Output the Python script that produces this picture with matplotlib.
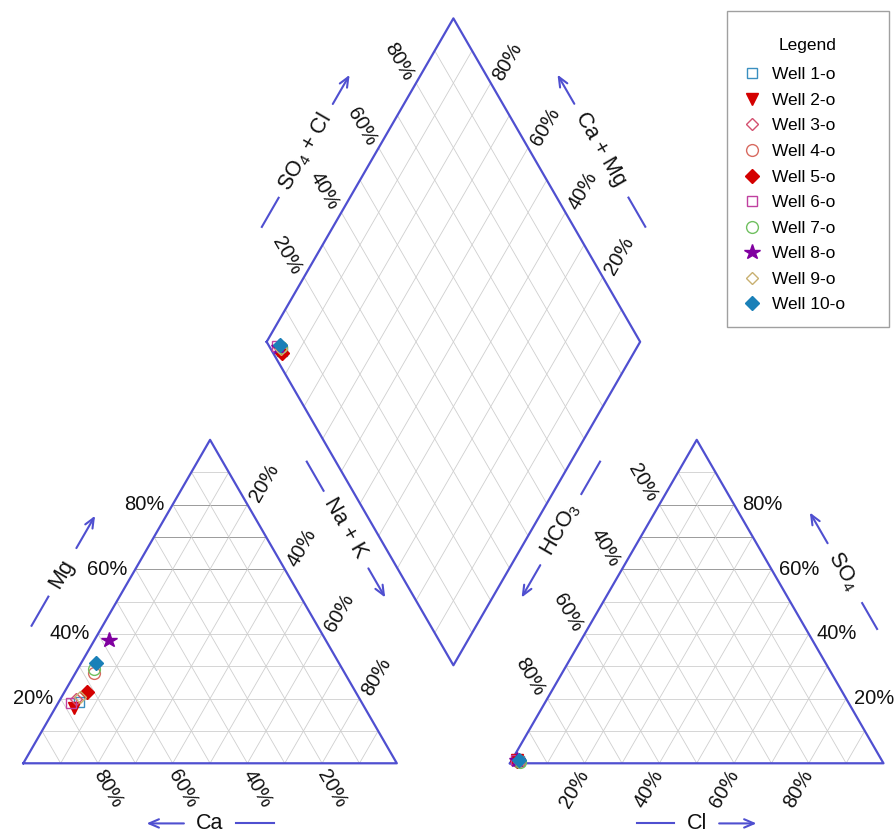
import numpy as np
import matplotlib
matplotlib.use('Agg')
import matplotlib.pyplot as plt
from matplotlib.patches import Rectangle

plt.rcParams['font.family'] = ['Liberation Sans', 'DejaVu Sans']
plt.rcParams['mathtext.default'] = 'regular'

# ---- data (% meq/L) ----
wells = ['Well 1-o', 'Well 2-o', 'Well 3-o', 'Well 4-o', 'Well 5-o',
         'Well 6-o', 'Well 7-o', 'Well 8-o', 'Well 9-o', 'Well 10-o']
ca = [75.5, 78.0, 76.0, 67.0, 72.0, 78.0, 66.5, 58.0, 74.5, 65.0]
mg = [19.0, 17.0, 20.0, 28.0, 22.0, 18.5, 29.0, 38.0, 20.5, 31.0]
nak = [5.5, 5.0, 4.0, 5.0, 6.0, 3.5, 4.5, 4.0, 5.0, 4.0]
cl = [2.0, 1.5, 1.8, 2.2, 1.6, 1.2, 2.5, 1.4, 2.1, 2.0]
so4 = [0.8, 0.9, 0.7, 0.6, 0.8, 1.0, 0.5, 1.0, 0.7, 0.9]
hco3 = [97.2, 97.6, 97.5, 97.2, 97.6, 97.8, 97.0, 97.6, 97.2, 97.1]

markers = ['s', 'v', 'D', 'o', 'D', 's', 'o', '*', 'D', 'D']
edge_colors = ['#3a8fc0', '#d40000', '#d45070', '#d86a60', '#d40000',
               '#c040a0', '#70c060', '#8000a0', '#c8b070', '#1a80b8']
filled = [False, True, False, False, True, False, False, True, False, True]
msizes = [7.5, 8.5, 6.5, 8.5, 7.5, 7.5, 8.5, 11.5, 6.5, 7.5]

BLUE = '#4f4fd0'
GRID = '#cfcfcf'
DARK = '#8a8a8a'
H = np.sqrt(3) / 2
GAP = 0.303
OX = 1 + GAP
OFF = 0.021

# diamond corners
B = np.array([1 + GAP / 2, GAP * H])
L = B + np.array([-0.5, H])
R = B + np.array([0.5, H])
T = B + np.array([0, 2 * H])


def cation_xy(c, m, n):
    s = c + m + n
    return n / s + m / s / 2, m / s * H


def anion_xy(c, s4, h):
    s = c + s4 + h
    return OX + c / s + s4 / s / 2, s4 / s * H


def diamond_xy(c, m, n, c2, s4, h):
    fn = n / (c + m + n)
    fs = (c2 + s4) / (c2 + s4 + h)
    p = L + fn * (B - L) + fs * (T - L)
    return p[0], p[1]


def draw_triangle(ax, x0):
    for k in range(1, 10):
        f = k / 10
        col = DARK if k in (6, 7, 8) else GRID
        ax.plot([x0 + f / 2, x0 + 1 - f / 2], [f * H, f * H], color=col, lw=0.6, zorder=1)
        ax.plot([x0 + f, x0 + f + (1 - f) / 2], [0, (1 - f) * H], color=GRID, lw=0.6, zorder=1)
        ax.plot([x0 + f, x0 + f / 2], [0, f * H], color=GRID, lw=0.6, zorder=1)
    ax.plot([x0, x0 + 1, x0 + 0.5, x0], [0, 0, H, 0], color=BLUE, lw=1.6, zorder=2)


def draw_diamond(ax):
    for k in range(1, 10):
        f = k / 10
        p = L + f * (B - L)
        q = p + (T - L)
        ax.plot([p[0], q[0]], [p[1], q[1]], color=GRID, lw=0.6, zorder=1)
        p = L + f * (T - L)
        q = p + (B - L)
        ax.plot([p[0], q[0]], [p[1], q[1]], color=GRID, lw=0.6, zorder=1)
    xs = [L[0], B[0], R[0], T[0], L[0]]
    ys = [L[1], B[1], R[1], T[1], L[1]]
    ax.plot(xs, ys, color=BLUE, lw=1.6, zorder=2)


def axis_title(ax, start, direc, normal, tl, tt, ta, d, label, rot):
    start, direc, normal = np.array(start), np.array(direc), np.array(normal)
    p0 = start + tl[0] * direc + d * normal
    p1 = start + tl[1] * direc + d * normal
    ax.plot([p0[0], p1[0]], [p0[1], p1[1]], color=BLUE, lw=1.5)
    a0 = start + ta[0] * direc + d * normal
    a1 = start + ta[1] * direc + d * normal
    ax.annotate('', xy=a1, xytext=a0,
                arrowprops=dict(arrowstyle='->,head_length=0.7,head_width=0.3',
                                color=BLUE, lw=1.5, shrinkA=0, shrinkB=0))
    pt = start + tt * direc + d * normal
    ax.text(pt[0], pt[1], label, rotation=rot, ha='center', va='center',
            rotation_mode='anchor', fontsize=15.5, color='#111111')


fig = plt.figure(figsize=(8.96, 8.35), dpi=100)
ax = fig.add_axes([0, 0, 1, 1])
ax.set_xlim(-0.0624, 2.3365)
ax.set_ylim(-0.192, 2.0436)
ax.axis('off')

draw_triangle(ax, 0)
draw_triangle(ax, OX)
draw_diamond(ax)

# tick labels
tk = dict(fontsize=14.5, color='#111111', rotation_mode='anchor')
for p in [0.2, 0.4, 0.6, 0.8]:
    lab = f'{int(p * 100)}%'
    # Mg, left edge of cation triangle
    ax.text(p / 2 - OFF, p * H, lab, ha='right', va='center', **tk)
    # Ca, bottom of cation triangle
    ax.text(1 - p, -OFF, lab, ha='left', va='center', rotation=-60, **tk)
    # Na + K, right edge of cation triangle
    ax.text(0.5 + p / 2 + OFF * H, (1 - p) * H + OFF * 0.5, lab,
            ha='left', va='center', rotation=60, **tk)
    # HCO3, left edge of anion triangle
    ax.text(OX + (1 - p) / 2 - OFF * H, (1 - p) * H + OFF * 0.5, lab,
            ha='right', va='center', rotation=-60, **tk)
    # Cl, bottom of anion triangle
    ax.text(OX + p, -OFF, lab, ha='right', va='center', rotation=60, **tk)
    # SO4, right edge of anion triangle
    ax.text(OX + 1 - p / 2 + OFF, p * H, lab, ha='left', va='center', **tk)
    # SO4 + Cl, upper-left edge of diamond
    q = L + p * (T - L)
    ax.text(q[0] - OFF * H, q[1] + OFF * 0.5, lab, ha='right', va='center', rotation=-60, **tk)
    # Ca + Mg, upper-right edge of diamond
    q = R + p * (T - R)
    ax.text(q[0] + OFF * H, q[1] + OFF * 0.5, lab, ha='left', va='center', rotation=60, **tk)

# axis titles with arrows
axis_title(ax, (0, 0), (0.5, H), (-H, 0.5), (0.33, 0.42), 0.49, (0.57, 0.67), 0.165, 'Mg', 60)
axis_title(ax, (1, 0), (-1, 0), (0, -1), (0.33, 0.43), 0.5, (0.57, 0.67), 0.161, 'Ca', 0)
axis_title(ax, (0.5, H), (0.5, -H), (H, 0.5), (0.18, 0.27), 0.385, (0.51, 0.60), 0.195, 'Na + K', -60)
axis_title(ax, (OX + 0.5, H), (-0.5, -H), (-H, 0.5), (0.18, 0.28), 0.39, (0.50, 0.60), 0.195, 'HCO$_3$', 60)
axis_title(ax, (OX + 1, 0), (-0.5, H), (H, 0.5), (0.32, 0.40), 0.5, (0.585, 0.68), 0.165, 'SO$_4$', -60)
axis_title(ax, (OX, 0), (1, 0), (0, -1), (0.34, 0.44), 0.5, (0.56, 0.66), 0.161, 'Cl', 0)
axis_title(ax, L, (0.5, H), (-H, 0.5), (0.26, 0.35), 0.49, (0.64, 0.73), 0.165, 'SO$_4$ + Cl', 60)
axis_title(ax, R, (-0.5, H), (H, 0.5), (0.26, 0.35), 0.5, (0.64, 0.73), 0.166, 'Ca + Mg', -60)

# data points
for i, w in enumerate(wells):
    fc = edge_colors[i] if filled[i] else 'none'
    style = dict(marker=markers[i], ms=msizes[i], mfc=fc, mec=edge_colors[i],
                 mew=1.0, linestyle='none', zorder=5)
    x, y = cation_xy(ca[i], mg[i], nak[i])
    ax.plot(x, y, label=w, **style)
    x, y = anion_xy(cl[i], so4[i], hco3[i])
    ax.plot(x, y, **style)
    x, y = diamond_xy(ca[i], mg[i], nak[i], cl[i], so4[i], hco3[i])
    ax.plot(x, y, **style)

# legend with its own frame
fig.patches.append(Rectangle((727 / 896, 1 - 327 / 835), 162 / 896, 316 / 835,
                             transform=fig.transFigure, fill=False,
                             edgecolor='#a0a0a0', lw=1.0))
leg = ax.legend(loc='upper left', bbox_to_anchor=(727 / 896, 0, 162 / 896, 1 - 22 / 835),
                bbox_transform=fig.transFigure, mode='expand', borderaxespad=0,
                frameon=False, title='Legend', title_fontsize=12.5, fontsize=12.5,
                borderpad=0.94, handlelength=1.0, handletextpad=0.65,
                labelspacing=0.6, numpoints=1)
leg._legend_box.sep = 10

fig.savefig('out.png', dpi=100)
